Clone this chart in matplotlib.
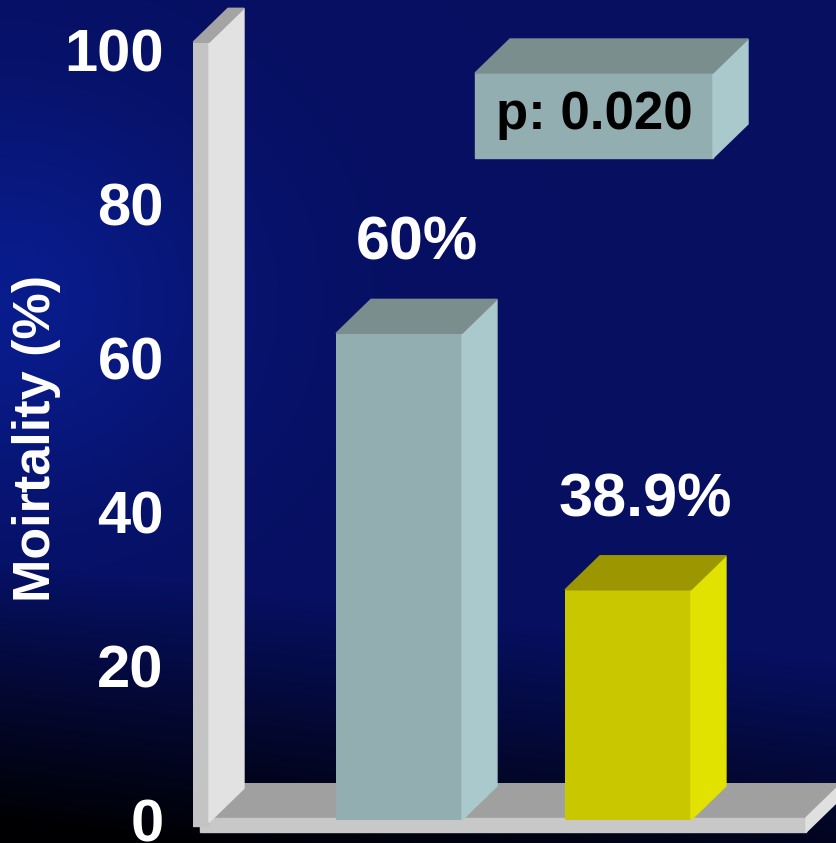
import numpy as np
import matplotlib
matplotlib.use("Agg")
from matplotlib import pyplot as plt
from matplotlib.patches import Polygon, Rectangle

plt.rcParams['font.family'] = ['Liberation Sans', 'DejaVu Sans']
plt.rcParams['font.weight'] = 'bold'

# data
groups = ["A", "B"]
heights = [63.2, 29.9]
value_labels = ["60%", "38.9%"]
yticks = [0, 20, 40, 60, 80, 100]
p_text = "p: 0.020"

front_colors = ["#93aeb0", "#c9c800"]
side_colors = ["#a9c9cd", "#e2e200"]
top_colors = ["#7b8e8e", "#9c9600"]

W, H = 836, 843
fig = plt.figure(figsize=(W / 100, H / 100), dpi=100)

# background gradient
bg = fig.add_axes([0, 0, 1, 1])
yy, xx = np.mgrid[0:H, 0:W]
base = np.array([0.025, 0.06, 0.38])
img = np.ones((H, W, 3)) * base
glow = np.exp(-((xx / 230.0) ** 2) - ((yy - 300) / 200.0) ** 2)
img += glow[..., None] * np.array([0.01, 0.05, 0.17])
start = 560 + xx * 0.12
fade = np.clip((yy - start) / 260.0, 0, 1)
img *= (1 - fade[..., None] * 0.97)
img = np.clip(img, 0, 1)
bg.imshow(img, aspect='auto', extent=[0, 1, 0, 1], origin='upper')
bg.axis('off')

# main axes: y = 0 at pixel 820 from top, 7.7 px per unit
ppu = 7.7
ax = fig.add_axes([193 / W, 0, (W - 193) / W, 1])
ax.patch.set_alpha(0)
x = np.arange(len(groups))
xpx = 229.0
ax.set_xlim((193 - 399) / xpx, (W - 399) / xpx)
ax.set_ylim((820 - H) / ppu, 820 / ppu)

dx = 35 / xpx
dy = 34 / ppu
bw = 0.55

# back wall
x0 = ax.get_xlim()[0]
fw = 16 / xpx
ax.add_patch(Polygon([(x0, -0.8), (x0, 101), (x0 + fw, 101), (x0 + fw, -0.8)],
                     closed=True, color="#c4c4c4", zorder=2))
ax.add_patch(Polygon([(x0 + fw, -0.3), (x0 + fw, 101), (x0 + fw + dx, 101 + dy),
                      (x0 + fw + dx, dy - 0.3)], closed=True, color="#e2e2e2", zorder=2))
ax.add_patch(Polygon([(x0, 101), (x0 + dx, 101 + dy), (x0 + fw + dx, 101 + dy),
                      (x0 + fw, 101)], closed=True, color="#a4a4a4", zorder=2))

# floor
fx0 = x0 + fw
fx1 = (806 - 399) / xpx
ax.add_patch(Polygon([(fx0, 0.3), (fx0 + dx, dy + 0.3), (fx1 + dx, dy + 0.3), (fx1, 0.3)],
                     closed=True, color="#a0a0a0", zorder=1))
ax.add_patch(Polygon([(x0 + 7 / xpx, 0.3), (fx1, 0.3), (fx1, -1.6), (x0 + 7 / xpx, -1.6)],
                     closed=True, color="#c8c8c8", zorder=1))
ax.add_patch(Polygon([(fx1, 0.3), (fx1 + dx, dy + 0.3), (fx1 + dx, dy - 1.6), (fx1, -1.6)],
                     closed=True, color="#e0e0e0", zorder=1))

# bars (front faces) plus 3D sides and tops
ax.bar(x, heights, width=bw, color=front_colors, zorder=3)
for i, h in enumerate(heights):
    l, r = x[i] - bw / 2, x[i] + bw / 2
    ax.add_patch(Polygon([(r, 0), (r, h), (r + dx, h + dy), (r + dx, dy)],
                         closed=True, color=side_colors[i], zorder=3))
    ax.add_patch(Polygon([(l, h), (l + dx, h + dy), (r + dx, h + dy), (r, h)],
                         closed=True, color=top_colors[i], zorder=3))
    ax.text(x[i] + dx / 2, h + dy + 55 / ppu, value_labels[i], color="white",
            fontsize=44, ha="center", va="center", zorder=4)

# p-value box
bl, br = (475 - 399) / xpx, (713 - 399) / xpx
bb, bt = (820 - 158) / ppu, (820 - 73) / ppu
ax.add_patch(Rectangle((bl, bb), br - bl, bt - bb, color="#93aeb0", zorder=3))
ax.add_patch(Polygon([(br, bb), (br, bt), (br + dx, bt + dy), (br + dx, bb + dy)],
                     closed=True, color="#a9c9cd", zorder=3))
ax.add_patch(Polygon([(bl, bt), (bl + dx, bt + dy), (br + dx, bt + dy), (br, bt)],
                     closed=True, color="#7b8e8e", zorder=3))
ax.text((bl + br) / 2, (bb + bt) / 2, p_text, color="black", fontsize=38,
        ha="center", va="center", zorder=4)

# axis styling
ax.set_yticks(yticks)
ax.set_yticklabels([str(t) for t in yticks], color="white", fontsize=43)
ax.tick_params(axis='y', length=0, pad=21)
ax.set_xticks([])
for s in ax.spines.values():
    s.set_visible(False)
ax.set_ylabel("Moirtality (%)", color="white", fontsize=37.5, fontweight="bold")
ylo, yhi = ax.get_ylim()
ax.yaxis.set_label_coords((61 - 193) / (W - 193), (49.6 - ylo) / (yhi - ylo))

fig.savefig("out.png", dpi=100)
